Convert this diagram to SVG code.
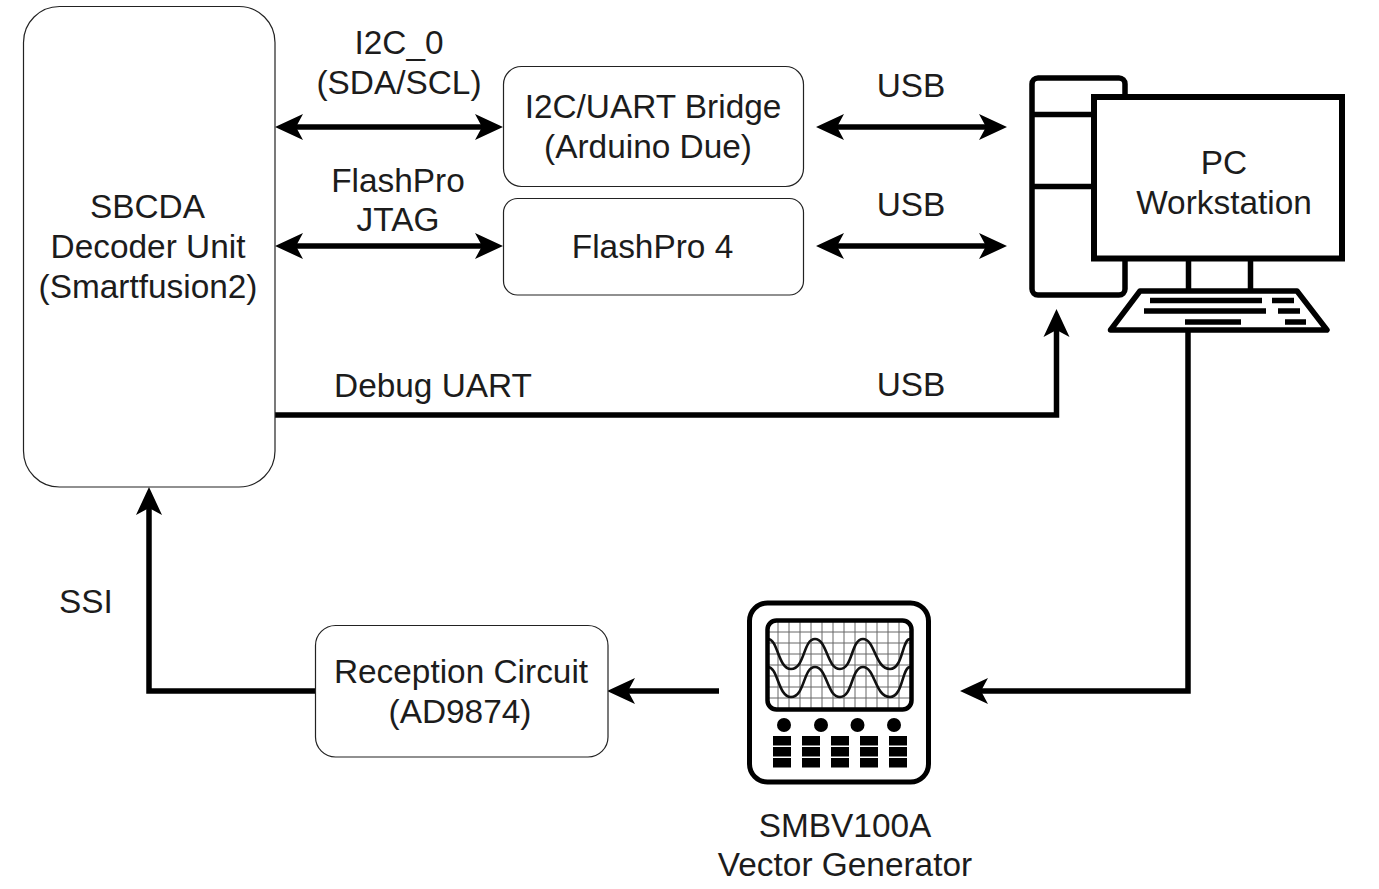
<svg xmlns="http://www.w3.org/2000/svg" width="1379" height="889" viewBox="0 0 1379 889">
<defs>
<style>
text{font-family:"Liberation Sans",Arial,sans-serif;font-size:33.400px;fill:#1c1c1c;text-anchor:middle}
.box{fill:#fff;stroke:#222;stroke-width:1.2}
.icon{fill:none;stroke:#000;stroke-width:5.500}
.conn{fill:none;stroke:#000;stroke-width:5.500}
.grid{stroke:#666;stroke-width:1;fill:none}
.wave{fill:none;stroke:#111;stroke-width:2.600}
</style>
<marker id="arrow" markerUnits="userSpaceOnUse" markerWidth="30" markerHeight="30" refX="14" refY="14" orient="auto-start-reverse" viewBox="0 0 30 30"><path d="M0 1L28 14L0 27L7 14Z" fill="#000"/></marker>
</defs>
<rect width="1379" height="889" fill="#fff"/>
<g id="connectors">
<path class="conn" d="M289 127H489" marker-start="url(#arrow)" marker-end="url(#arrow)"/>
<path class="conn" d="M289 246H489" marker-start="url(#arrow)" marker-end="url(#arrow)"/>
<path class="conn" d="M830 127H993" marker-start="url(#arrow)" marker-end="url(#arrow)"/>
<path class="conn" d="M830 246H993" marker-start="url(#arrow)" marker-end="url(#arrow)"/>
<path class="conn" d="M275 415H1056.500V323" marker-end="url(#arrow)"/>
<path class="conn" d="M1188 331V691H974" marker-end="url(#arrow)"/>
<path class="conn" d="M719 691H621" marker-end="url(#arrow)"/>
<path class="conn" d="M315 691H149V501" marker-end="url(#arrow)"/>
</g>
<g id="node-decoder"><rect class="box" x="23.500" y="6.500" width="251.500" height="480.500" rx="36"/>
<text x="147.500" y="218">SBCDA</text><text x="148" y="258">Decoder Unit</text><text x="148" y="298">(Smartfusion2)</text></g>
<g id="node-bridge"><rect class="box" x="503.500" y="66.500" width="300" height="120" rx="18"/>
<text x="653" y="118">I2C/UART Bridge</text><text x="648" y="158">(Arduino Due)</text></g>
<g id="node-flashpro"><rect class="box" x="503.500" y="198.500" width="300" height="96.500" rx="14"/>
<text x="652.500" y="258">FlashPro 4</text></g>
<g id="node-reception"><rect class="box" x="315.500" y="625.500" width="292.500" height="131.500" rx="20"/>
<text x="461" y="683">Reception Circuit</text><text x="460" y="723">(AD9874)</text></g>
<g id="node-pc">
<rect class="icon" x="1032" y="78" width="93" height="217" rx="6"/>
<path class="icon" d="M1032 114.500H1092M1032 186.500H1092"/>
<rect x="1094" y="97" width="248" height="161.500" fill="#fff" stroke="#000" stroke-width="6"/>
<path class="icon" d="M1188.500 261V290M1250.500 261V290"/>
<path class="icon" stroke-linejoin="round" d="M1140 291H1297L1327 330H1110.500Z"/>
<path class="icon" d="M1150 300.500H1262M1272 300.500H1294M1144 311H1266M1278 311H1300M1185 322H1241M1285 322H1306"/>
<text x="1224" y="174">PC</text><text x="1224" y="214">Workstation</text>
</g>
<g id="node-generator">
<rect x="749.500" y="603" width="179" height="179" rx="18" fill="#fff" stroke="#000" stroke-width="5"/>
<path class="grid" d="M778 622V708M789 622V708M800 622V708M811 622V708M822 622V708M833 622V708M844 622V708M855 622V708M866 622V708M877 622V708M888 622V708M899 622V708M769 632H911M769 643H911M769 654H911M769 665H911M769 676H911M769 687H911M769 698H911"/>
<path class="wave" d="M768 639C778 639 778 669 791 669C805 669 803 639 815 639C827 639 827 669 840 669C853 669 851 639 863 639C875 639 875 669 890 669C903 669 902 639 910 639"/>
<path class="wave" d="M768 667C778 667 778 697 791 697C805 697 803 667 815 667C827 667 827 697 840 697C853 697 851 667 863 667C875 667 875 697 890 697C903 697 902 667 910 667"/>
<rect x="767.500" y="620.500" width="144" height="89" rx="9" fill="none" stroke="#000" stroke-width="4.500"/>
<g fill="#000"><circle cx="784" cy="725" r="7"/><circle cx="821" cy="725" r="7"/><circle cx="857.500" cy="725" r="7"/><circle cx="894" cy="725" r="7"/>
<path d="M773 736h18v9.500h-18zM773 747h18v9.500h-18zM773 758h18v9.500h-18zM802 736h18v9.500h-18zM802 747h18v9.500h-18zM802 758h18v9.500h-18zM831 736h18v9.500h-18zM831 747h18v9.500h-18zM831 758h18v9.500h-18zM860 736h18v9.500h-18zM860 747h18v9.500h-18zM860 758h18v9.500h-18zM889 736h18v9.500h-18zM889 747h18v9.500h-18zM889 758h18v9.500h-18z"/></g>
<text x="845" y="837">SMBV100A</text><text x="845" y="876">Vector Generator</text>
</g>
<g id="labels">
<text x="399" y="54">I2C_0</text><text x="399" y="94">(SDA/SCL)</text>
<text x="398" y="192">FlashPro</text><text x="398" y="231">JTAG</text>
<text x="911" y="97">USB</text><text x="911" y="216">USB</text><text x="911" y="396">USB</text>
<text x="433" y="397">Debug UART</text>
<text x="86" y="613">SSI</text>
</g>
</svg>
